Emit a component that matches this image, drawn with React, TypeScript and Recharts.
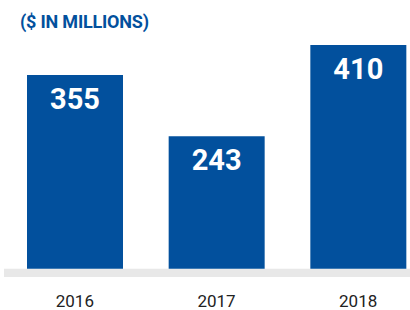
import { BarChart, Bar, XAxis, YAxis, ReferenceArea, LabelList } from "recharts";

const years = ["2016", "2017", "2018"];
const amounts = [355, 243, 410];

const data = years.map((year, i) => ({ year, amount: amounts[i] }));

const blue = "#02509d";
const font = "Roboto, sans-serif";

export default function App() {
  return (
    <div
      style={{
        position: "absolute",
        left: 0,
        top: 0,
        width: 410,
        height: 310,
        overflow: "hidden",
        background: "#fff",
        fontFamily: font,
      }}
    >
      <div
        style={{
          position: "absolute",
          left: 20,
          top: 11,
          color: blue,
          fontWeight: 700,
          fontSize: 18,
          letterSpacing: -0.2,
          zIndex: 1,
        }}
      >
        ($ IN MILLIONS)
      </div>
      <BarChart
        width={429}
        height={310}
        data={data}
        margin={{ top: 45, right: 0, bottom: 0, left: 0 }}
      >
        <YAxis hide domain={[-15, 410]} allowDataOverflow />
        <XAxis
          dataKey="year"
          height={33}
          padding={{ left: 4, right: 0 }}
          axisLine={false}
          tickLine={false}
          tickSize={0}
          tickMargin={18}
          tick={{ fill: "#222", fontSize: 17, fontFamily: font }}
        />
        <ReferenceArea y1={-15} y2={0} fill="#e8e8e8" fillOpacity={1} stroke="none" ifOverflow="visible" />
        <Bar dataKey="amount" fill={blue} barSize={96} isAnimationActive={false}>
          <LabelList
            dataKey="amount"
            position="insideTop"
            offset={13}
            fill="#fff"
            fontSize={29}
            fontWeight={700}
            fontFamily={font}
          />
        </Bar>
      </BarChart>
    </div>
  );
}
